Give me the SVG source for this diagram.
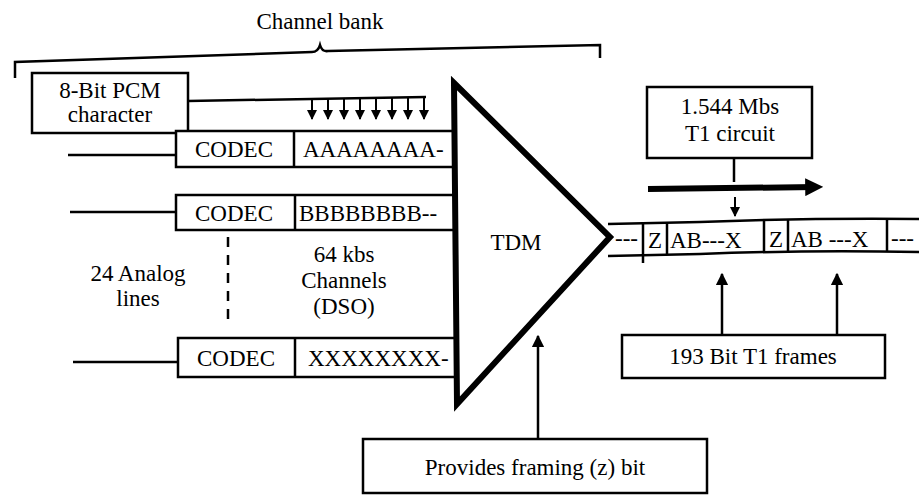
<svg xmlns="http://www.w3.org/2000/svg" width="919" height="495" viewBox="0 0 919 495">
<defs>
<style>
text{font-family:'Liberation Serif','DejaVu Serif','Noto Serif',serif;font-size:23px;fill:#000}
.c{text-anchor:middle}
.box{fill:#fff;stroke:#000;stroke-width:2.5}
.ln{fill:none;stroke:#000;stroke-width:2.5}
</style>
<marker id="ah" viewBox="0 0 10 10" refX="9" refY="5" markerWidth="5" markerHeight="5" orient="auto"><path d="M0,0 L10,5 L0,10 z" fill="#000"/></marker>
<marker id="ahs" viewBox="0 0 10 10" refX="9" refY="5" markerWidth="5" markerHeight="5" orient="auto"><path d="M0,0 L10,5 L0,10 z" fill="#000"/></marker>
<marker id="ahb" viewBox="0 0 10 10" refX="6" refY="5" markerWidth="3" markerHeight="3" orient="auto"><path d="M0,0 L10,5 L0,10 z" fill="#000"/></marker>
</defs>

<g id="channel-bank">
<text class="c" x="320" y="29">Channel bank</text>
<path class="ln" d="M15,78 L15,62 L312,52 Q318,52 320,45 Q322,52 328,51 L600,45 L600,58"/>
</g>

<g id="connectors">
<path class="ln" d="M188,101 L426,97"/>
<g stroke="#000" stroke-width="2" marker-end="url(#ahs)">
<line x1="312" y1="99" x2="312" y2="119"/>
<line x1="328" y1="99" x2="328" y2="119"/>
<line x1="344" y1="99" x2="344" y2="119"/>
<line x1="360" y1="98" x2="360" y2="119"/>
<line x1="376" y1="98" x2="376" y2="119"/>
<line x1="392" y1="98" x2="392" y2="119"/>
<line x1="408" y1="97" x2="408" y2="119"/>
<line x1="424" y1="97" x2="424" y2="119"/>
</g>
<line class="ln" x1="68" y1="155" x2="176" y2="155"/>
<line class="ln" x1="70" y1="212" x2="176" y2="212"/>
<line class="ln" x1="73" y1="362" x2="178" y2="362"/>
<line x1="228" y1="237" x2="228" y2="327" stroke="#000" stroke-width="2.5" stroke-dasharray="10,8"/>
<line class="ln" x1="734" y1="158" x2="734" y2="182"/>
<line x1="648" y1="189" x2="816" y2="187" stroke="#000" stroke-width="6" marker-end="url(#ahb)"/>
<line x1="735" y1="197" x2="735" y2="216" stroke="#000" stroke-width="2" marker-end="url(#ahs)"/>
<line x1="722" y1="335" x2="722" y2="274" stroke="#000" stroke-width="2.5" marker-end="url(#ah)"/>
<line x1="837" y1="335" x2="837" y2="274" stroke="#000" stroke-width="2.5" marker-end="url(#ah)"/>
<line x1="538" y1="440" x2="538" y2="336" stroke="#000" stroke-width="2.5" marker-end="url(#ah)"/>
</g>

<g id="pcm-box">
<rect class="box" x="32" y="73" width="156" height="60"/>
<text class="c" x="110" y="98">8-Bit PCM</text>
<text class="c" x="110" y="122">character</text>
</g>

<g id="codec-a">
<rect class="box" x="176" y="131" width="280" height="36"/>
<line class="ln" x1="294" y1="131" x2="294" y2="167"/>
<text class="c" x="234" y="157">CODEC</text>
<text x="303" y="157">AAAAAAAA-</text>
</g>

<g id="codec-b">
<rect class="box" x="176" y="195" width="280" height="35"/>
<line class="ln" x1="295" y1="195" x2="295" y2="230"/>
<text class="c" x="234" y="221">CODEC</text>
<text x="299" y="221">BBBBBBBB--</text>
</g>

<g id="analog-label">
<text class="c" x="138" y="281">24 Analog</text>
<text class="c" x="138" y="306">lines</text>
</g>

<g id="channels-label">
<text class="c" x="344" y="262">64 kbs</text>
<text class="c" x="344" y="288">Channels</text>
<text class="c" x="344" y="314">(DSO)</text>
</g>

<g id="codec-x">
<rect class="box" x="178" y="338" width="280" height="39"/>
<line class="ln" x1="295" y1="338" x2="295" y2="377"/>
<text class="c" x="236" y="366">CODEC</text>
<text x="308" y="366">XXXXXXXX-</text>
</g>

<g id="t1-stream">
<path class="ln" d="M608,224 L700,222 Q800,218 919,219"/>
<path class="ln" d="M608,256 L700,254 Q800,250 919,252"/>
<text x="615" y="246">---</text>
<line class="ln" x1="643" y1="224" x2="643" y2="263"/>
<line class="ln" x1="667" y1="223" x2="667" y2="255"/>
<text class="c" x="655" y="248">Z</text>
<text x="670" y="248">AB---X</text>
<line class="ln" x1="764" y1="221" x2="764" y2="253"/>
<text class="c" x="776" y="247">Z</text>
<line class="ln" x1="788" y1="220" x2="788" y2="252"/>
<text x="791" y="247">AB ---X</text>
<line class="ln" x1="887" y1="219" x2="887" y2="251"/>
<text x="891" y="246">---</text>
</g>

<g id="tdm">
<path d="M454,83 L610,237 L457,404 Z" fill="#fff" stroke="#000" stroke-width="6" stroke-linejoin="miter"/>
<text class="c" x="516" y="250">TDM</text>
</g>

<g id="t1-circuit-box">
<rect class="box" x="647" y="87" width="165" height="71"/>
<text class="c" x="730" y="114">1.544 Mbs</text>
<text class="c" x="730" y="141">T1 circuit</text>
</g>

<g id="frames-box">
<rect class="box" x="622" y="335" width="263" height="43"/>
<text class="c" x="753" y="364">193 Bit T1 frames</text>
</g>

<g id="framing-box">
<rect class="box" x="363" y="439" width="344" height="54"/>
<text class="c" x="535" y="475">Provides framing (z) bit</text>
</g>
</svg>
